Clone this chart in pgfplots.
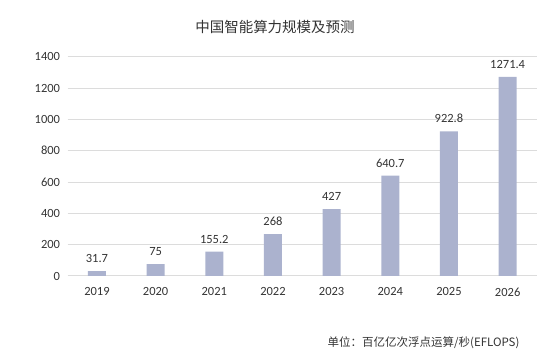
\documentclass[border=0pt]{standalone}
\usepackage{fontspec}
\setmainfont{Carlito}
\newfontfamily\cjk{Noto Sans CJK SC}
\usepackage{pgfplots}
\pgfplotsset{compat=1.18}
\definecolor{barc}{HTML}{ABB2CE}
\definecolor{gridc}{HTML}{DCDCDC}
\definecolor{txt}{HTML}{333333}
\begin{document}
\begin{tikzpicture}
\path[use as bounding box] (0pt,0pt) rectangle (550pt,361pt);
\node[text=txt,font=\cjk\fontsize{14.5}{16}\selectfont] at (275pt,334pt) {中国智能算力规模及预测};
\node[text=txt,font=\cjk\fontsize{11.5}{13}\selectfont,anchor=east] at (523pt,18pt) {单位：百亿亿次浮点运算/秒(EFLOPS)};
\begin{axis}[
  at={(67.6pt,85pt)}, anchor=south west,
  scale only axis, width=469.4pt, height=219.3pt,
  xmin=-0.5, xmax=7.5, ymin=0, ymax=1400,
  ytick={0,200,...,1400},
  xtick=data,
  xticklabels={2019,2020,2021,2022,2023,2024,2025,2026},
  axis line style={draw=none},
  tick style={draw=none},
  ymajorgrids, grid style={gridc, line width=1pt},
  /pgf/number format/assume math mode=true,
  /pgf/number format/.cd, 1000 sep={}, /pgfplots/.cd,
  ticklabel style={font=\fontsize{12.5}{14}\selectfont, text=txt},
  yticklabel style={xshift=-4pt},
  xticklabel style={yshift=-4pt},
  ybar, bar width=18pt,
  nodes near coords,
  point meta=explicit symbolic,
  nodes near coords style={font=\fontsize{12.5}{14}\selectfont, text=txt, anchor=south, yshift=5pt},
]
\addplot[fill=barc, draw=none] table[meta=label] {
x y label
0 31.7 31.7
1 75 75
2 155.2 155.2
3 268 268
4 427 427
5 640.7 640.7
6 922.8 922.8
7 1271.4 1271.4
};
\end{axis}
\end{tikzpicture}
\end{document}
